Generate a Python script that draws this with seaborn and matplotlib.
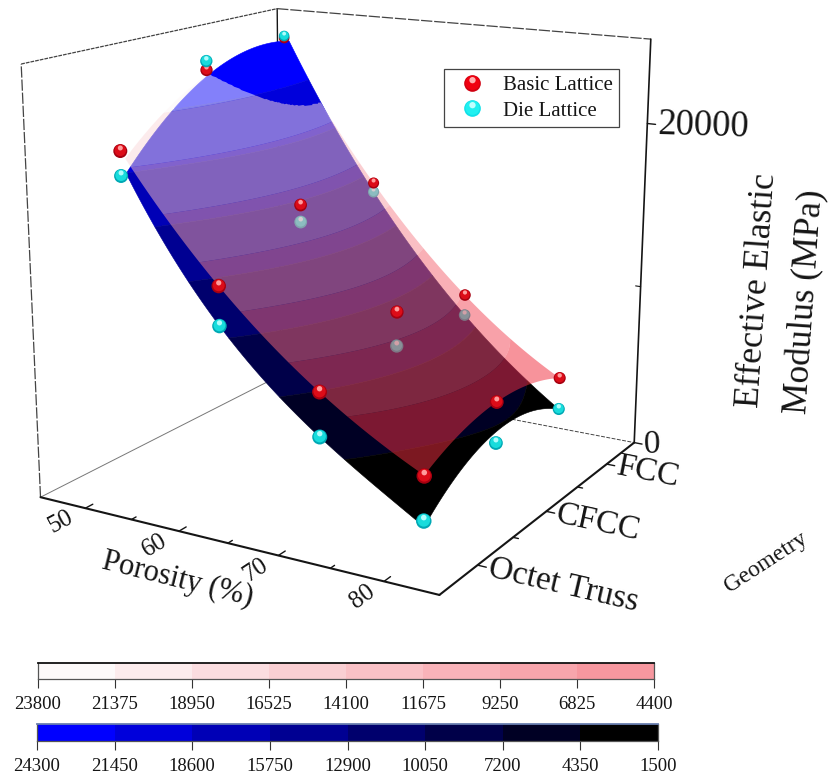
import numpy as np
import matplotlib
matplotlib.use("Agg")
import matplotlib.pyplot as plt
import seaborn as sns
from matplotlib.lines import Line2D
from matplotlib.legend_handler import HandlerTuple
from matplotlib.markers import MarkerStyle
from matplotlib.transforms import Affine2D
from mpl_toolkits.mplot3d import proj3d
from mpl_toolkits.mplot3d.art3d import Poly3DCollection

# data
porosity = [50, 60, 70, 80]
geometry = ["Octet Truss", "CFCC", "FCC"]
geometry_pos = [1, 2, 3]

# measured points, one row per geometry
basic_points = [[19790, 12920, 7910, 4360],
                [23105, 15735, 10220, 5920],
                [23885, 15375, 9110, 4875]]
die_points = [[18370, 10625, 5335, 1805],
              [23635, 14715, 8180, 3470],
              [24015, 14805, 7835, 2910]]

# nodes of the fitted surfaces
basic_surface = [[19790, 12920, 7910, 4400],
                 [23450, 15735, 10220, 5920],
                 [23800, 15375, 9110, 4875]]
die_surface = [[19100, 10625, 5335, 1500],
               [23500, 14715, 8180, 4200],
               [24300, 14805, 7835, 2910]]

basic_levels = [23800, 21375, 18950, 16525, 14100, 11675, 9250, 6825, 4400]
die_levels = [24300, 21450, 18600, 15750, 12900, 10050, 7200, 4350, 1500]

sns.set_theme(style="white")
plt.rcParams["font.family"] = ["Liberation Serif", "DejaVu Serif"]
ink = "#151515"

pink_pal = sns.blend_palette(["#fdf6f6", "#f03040"], 8)
blue_pal = sns.blend_palette(["#0000ff", "#000000"], 8)

gx = np.linspace(50.5, 80, 400)
gy = np.linspace(1, 3, 160)


def fit_surface(nodes):
    # cubic along porosity, quadratic across geometry
    rows = np.array([np.polyval(np.polyfit(porosity, r, 3), gx) for r in nodes])
    c = np.polyfit(geometry_pos, rows, 2)
    return np.array([np.polyval(c[:, j], gy) for j in range(len(gx))]).T


def band_polys(Z, levels, start):
    # one polygon per colour band, z falls with porosity along every row
    polys = []
    for k in range(8):
        rows = []
        for j, y in enumerate(gy):
            z = Z[j]
            xa = gx[0] if k == 0 or z[0] <= levels[k] else np.interp(-levels[k], -z, gx)
            xb = gx[-1] if k == 7 or z[-1] >= levels[k + 1] else np.interp(-levels[k + 1], -z, gx)
            xa = max(xa, start[j])
            if xb > xa:
                rows.append((j, xa, xb))

        def pts(j, xs):
            return [(x, gy[j], np.interp(x, gx, Z[j])) for x in xs]

        if len(rows) < 2:
            polys.append(None)
            continue
        verts = pts(rows[0][0], np.linspace(rows[0][1], rows[0][2], 12))
        for j, xa, xb in rows[1:-1]:
            verts += pts(j, [xb])
        verts += pts(rows[-1][0], np.linspace(rows[-1][2], rows[-1][1], 12))
        for j, xa, xb in rows[-2:0:-1]:
            verts += pts(j, [xa])
        polys.append(verts)
    return polys


def ball(ax, xs, ys, zs, sizes, rim, main, spot, zo):
    sizes = (np.asarray(sizes) * 0.72) ** 2
    kw = dict(linewidths=0, depthshade=False, zorder=zo)
    ax.scatter(xs, ys, zs, s=sizes, c=rim, marker="o", **kw)
    m1 = MarkerStyle("o", transform=Affine2D().scale(0.82).translate(0, 0.05))
    ax.scatter(xs, ys, zs, s=sizes, c=main, marker=m1, **kw)
    m2 = MarkerStyle("o", transform=Affine2D().scale(0.36).translate(0, 0.22))
    ax.scatter(xs, ys, zs, s=sizes, c=spot, marker=m2, **kw)


def box_text(x, y, z, s, direction, **kw):
    # place a label at a box position, its baseline along a box direction
    X, Y, _ = proj3d.proj_transform(x, y, z, ax.get_proj())
    X2, Y2, _ = proj3d.proj_transform(x + direction[0], y + direction[1], z + direction[2], ax.get_proj())
    angle = np.degrees(np.arctan2(Y2 - Y, X2 - X))
    ax.text2D(X, Y, s, transform=ax.transData, rotation=angle, rotation_mode="anchor", color=ink, **kw)


fig = plt.figure(figsize=(8.32, 7.75), dpi=100)
W = 700
ax = fig.add_axes([(348.4 - 0.5135 * W) / 832, (775 - 266.1 - 0.5135 * W) / 775, W / 832, W / 775],
                  projection="3d", computed_zorder=False)
ax.set_proj_type("persp", focal_length=1944 * 1.85 / (10 * W))
ax.view_init(elev=15.25, azim=-59.45)
box = np.array([447.08, 443.08, 432.69])
ax.set_box_aspect(box, zoom=np.linalg.norm(box) * 1.85 / W / (1.8294640721620434 * 25 / 24))
ax.set_xlim(45, 85, view_margin=0)
ax.set_ylim(0.5, 3.5, view_margin=0)
ax.set_zlim(0, 25000, view_margin=0)
ax.set_axis_off()
ax.patch.set_alpha(0)

# box edges
x0, x1, y0, y1, z1 = 45, 85, 0.5, 3.5, 25000
ax.plot([x0, x0], [y0, y1], [0, 0], color="#777777", lw=0.7, zorder=1)
ax.plot([x0, x1], [y1, y1], [0, 0], color="#444444", lw=0.7, ls=(0, (4, 1.5)), zorder=1)
ax.plot([x0, x0], [y1, y1], [0, z1], color=ink, lw=1.0, zorder=1)
ax.plot([x0, x0], [y0, y0], [0, z1], color="#444444", lw=0.9, ls=(0, (9, 1.5)), zorder=1)
ax.plot([x0, x0], [y0, y1], [z1, z1], color="#444444", lw=0.9, ls=(0, (3, 0.8)), zorder=1)
ax.plot([x0, x1], [y1, y1], [z1, z1], color="#444444", lw=0.9, ls=(0, (9, 1.5)), zorder=1)
ax.plot([x1, x1], [y1, y1], [0, z1], color=ink, lw=1.2, zorder=7)
ax.plot([x0, x1], [y0, y0], [0, 0], color=ink, lw=1.5, zorder=7)
ax.plot([x1, x1], [y0, y1], [0, 0], color=ink, lw=1.5, zorder=7)

# surfaces
Zb = fit_surface(basic_surface)
Zd = fit_surface(die_surface)

for verts, col in zip(band_polys(Zd, die_levels, np.full(len(gy), gx[0])), blue_pal):
    if verts:
        pc = Poly3DCollection([verts], facecolors=[col], edgecolors=[col], linewidths=0.4, zorder=2)
        ax.add_collection3d(pc, autolim=False)

# the basic surface only shows where it lies above the die surface
start = []
for j in range(len(gy)):
    above = np.nonzero(Zb[j] >= Zd[j])[0]
    start.append(gx[above[0]] if len(above) else gx[-1])
for verts, col in zip(band_polys(Zb, basic_levels, start), pink_pal):
    if verts:
        pc = Poly3DCollection([verts], facecolors=[(*col, 0.52)], edgecolors="none", linewidths=0, zorder=4)
        ax.add_collection3d(pc, autolim=False)

# marks
PX, GY = np.meshgrid(porosity, geometry_pos)
px, gy_p = PX.ravel(), GY.ravel()
basic_z = np.array(basic_points).ravel()
die_z = np.array(die_points).ravel()
sizes = 15.5 - 1.7 * (gy_p - 1) - 0.05 * (80 - px)
red_col = ("#a50010", "#dc0c18", "#ff9c9c")
cy_col = ("#00a8b4", "#18dcdc", "#b0fcfc")
under = die_z < basic_z
ball(ax, px[under], gy_p[under], die_z[under], sizes[under], *cy_col, 3)
ball(ax, px, gy_p, basic_z, sizes, *red_col, 5)
ball(ax, px[~under], gy_p[~under], die_z[~under], sizes[~under], *cy_col, 6)

# ticks
for v in range(50, 85, 5):
    ln = 0.08 if v % 10 == 0 else 0.05
    ax.plot([v, v], [y0, y0 + ln], [0, 0], color=ink, lw=1.0, zorder=7)
for v in (1, 1.5, 2, 2.5, 3):
    ln = 0.8 if v % 1 == 0 else 0.5
    ax.plot([x1, x1 + ln], [v, v], [0, 0], color=ink, lw=1.0, zorder=7)
ax.plot([x1, x1 + 0.8], [y1, y1], [20000, 20000], color=ink, lw=1.0, zorder=7)
ax.plot([x1, x1 - 0.5], [y1, y1], [10000, 10000], color=ink, lw=0.8, zorder=7)
ax.plot([x1, x1 + 0.8], [y1, y1], [0, 0], color=ink, lw=1.0, zorder=7)

# tick labels follow the floor directions of the box
for v in porosity:
    box_text(v, 0.24, 0, str(v), (0, 1, 0), fontsize=18, ha="center", va="center")
for name, v in zip(geometry, geometry_pos):
    box_text(86, v, 0, name, (1, 0, 0), fontsize=24, ha="left", va="center")
box_text(86, y1, 20000, "20000", (1, 0.03, 0), fontsize=26.5, ha="left", va="center")
box_text(86, y1, 0, "0", (1, 0.05, 0), fontsize=24, ha="left", va="center")

# axis titles
fig.text(178 / 832, 1 - 580 / 775, "Porosity (%)", fontsize=22, rotation=-14, ha="center", va="center", color=ink)
fig.text(766 / 832, 1 - 562 / 775, "Geometry", fontsize=17, rotation=33, ha="center", va="center", color=ink)
fig.text(758 / 832, 1 - 290 / 775, "Effective Elastic", fontsize=25.5, rotation=86, ha="center", va="center", color=ink)
fig.text(806 / 832, 1 - 302 / 775, "Modulus (MPa)", fontsize=25.5, rotation=86, ha="center", va="center", color=ink)


# legend
def legend_ball(rim, main, spot):
    parts = []
    for c, sc, dy in ((rim, 1, 0), (main, 0.85, 0.04), (spot, 0.38, 0.2)):
        m = MarkerStyle("o", transform=Affine2D().scale(sc).translate(0, dy))
        parts.append(Line2D([], [], ls="", marker=m, ms=12, mfc=c, mec="none"))
    return tuple(parts)


leg = fig.legend([legend_ball("#d00010", "#f00010", "#ffb0b0"), legend_ball("#10e0e8", "#20f0f0", "#c0ffff")],
                 ["Basic Lattice", "Die Lattice"], handler_map={tuple: HandlerTuple(ndivide=1, pad=0)},
                 loc="upper left", bbox_to_anchor=(444 / 832, 1 - 69 / 775), borderaxespad=0,
                 fontsize=15, frameon=True, fancybox=False, edgecolor="#444444", framealpha=1,
                 borderpad=0.3, handlelength=2.1, handletextpad=0.44, labelspacing=0.3)
leg.get_frame().set_linewidth(0.9)
for t in leg.get_texts():
    t.set_color(ink)


# colour scales
def scale_bar(rect, pal, levels, alpha, top_color):
    cax = fig.add_axes([rect[0] / 832, 1 - rect[3] / 775, (rect[2] - rect[0]) / 832, (rect[3] - rect[1]) / 775])
    sns.heatmap(np.arange(8).reshape(1, -1), cmap=pal, cbar=False, ax=cax, alpha=alpha,
                yticklabels=False, xticklabels=False)
    cax.set_xticks(np.arange(9))
    cax.set_xticklabels(levels, rotation=0, fontsize=13.5, color=ink)
    cax.tick_params(axis="x", bottom=True, length=6.5, width=0.8, color="#333333", pad=6)
    for side in ("top", "bottom", "left", "right"):
        cax.spines[side].set_visible(True)
        cax.spines[side].set_linewidth(0.9)
        cax.spines[side].set_color("#555555")
    cax.spines["top"].set_color(top_color)
    cax.spines["top"].set_linewidth(1.3)
    return cax


scale_bar((38, 663, 654, 679), pink_pal, basic_levels, 0.5, "#111111")
scale_bar((37, 724, 658, 741), blue_pal, die_levels, None, "#6a7fb0")

fig.savefig("out.png", dpi=100)
